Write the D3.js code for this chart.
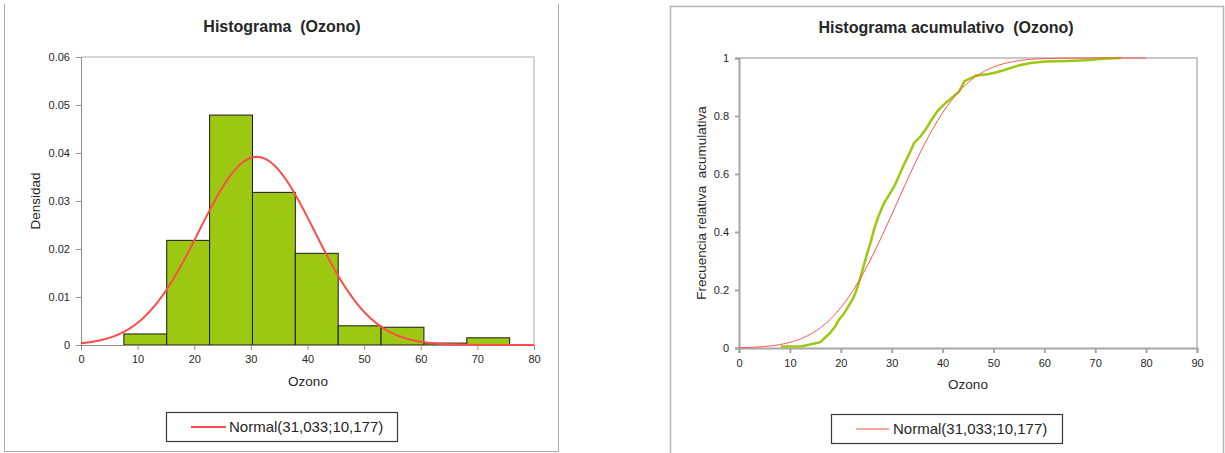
<!DOCTYPE html>
<html>
<head>
<meta charset="utf-8">
<script src="https://cdn.jsdelivr.net/npm/d3@7"></script>
<style>
  body { margin: 0; background: #fff; }
  svg text { font-family: "Liberation Sans", Arial, sans-serif; fill: #262626; white-space: pre; }
</style>
</head>
<body>
<svg id="chart" width="1225" height="453"></svg>
<script>
// Ozone sample: fitted normal parameters
const normalMean = 31.033;
const normalSd = 10.177;
const legendLabel = "Normal(31,033;10,177)";

// Histogram bins (edges) and densities
const binEdges = [0, 7.57, 15.14, 22.71, 30.28, 37.85, 45.42, 52.99, 60.56, 68.13, 75.7];
const binDensity = [0, 0.0023, 0.0218, 0.0479, 0.0318, 0.0191, 0.0040, 0.0037, 0.0004, 0.0015];

// Empirical cumulative relative frequency [ozone, F]
const ecdfOzone = [8.2, 12.4, 14.4, 16.0, 17.0, 18.0, 19.0, 19.6, 20.6, 21.6, 22.4, 23.2, 23.9, 24.6, 25.2, 25.9, 26.5, 27.5, 28.5, 29.5, 30.5, 31.4, 32.4, 33.4, 34.4, 35.7, 36.7, 37.7, 39.0, 40.3, 41.6, 43.2, 44.3, 46.5, 49.1, 50.7, 52.9, 55.1, 57.3, 60.2, 64.6, 69.0, 71.2, 75.0];
const ecdfFreq  = [0.005, 0.006, 0.014, 0.02, 0.037, 0.054, 0.077, 0.097, 0.118, 0.147, 0.17, 0.205, 0.245, 0.29, 0.326, 0.366, 0.407, 0.459, 0.50, 0.528, 0.557, 0.592, 0.632, 0.667, 0.707, 0.73, 0.754, 0.783, 0.817, 0.84, 0.86, 0.883, 0.92, 0.939, 0.945, 0.951, 0.963, 0.975, 0.983, 0.988, 0.99, 0.993, 0.997, 1.0];

// Axis ticks
const histXTicks = [0, 10, 20, 30, 40, 50, 60, 70, 80];
const histYTicks = [0, 0.01, 0.02, 0.03, 0.04, 0.05, 0.06];
const histYLabels = ["0", "0.01", "0.02", "0.03", "0.04", "0.05", "0.06"];
const cumXTicks = [0, 10, 20, 30, 40, 50, 60, 70, 80, 90];
const cumYTicks = [0, 0.2, 0.4, 0.6, 0.8, 1];
const cumYLabels = ["0", "0.2", "0.4", "0.6", "0.8", "1"];

const green = "#9dc811";
const red = "#ff4b4b";

const svg = d3.select("#chart");

// normal density / distribution from the fitted parameters
function normPdf(x) {
  const z = (x - normalMean) / normalSd;
  return Math.exp(-0.5 * z * z) / (normalSd * Math.sqrt(2 * Math.PI));
}
function erf(x) {
  const s = Math.sign(x); x = Math.abs(x);
  const t = 1 / (1 + 0.3275911 * x);
  const y = 1 - (((((1.061405429 * t - 1.453152027) * t) + 1.421413741) * t - 0.284496736) * t + 0.254829592) * t * Math.exp(-x * x);
  return s * y;
}
function normCdf(x) { return 0.5 * (1 + erf((x - normalMean) / (normalSd * Math.SQRT2))); }
const curveX = d3.range(0, 80.001, 0.25);

function styleAxis(g, color, width) {
  g.select(".domain").attr("stroke", color).attr("stroke-width", width);
  g.selectAll(".tick line").attr("stroke", color).attr("stroke-width", width);
  g.selectAll(".tick text").attr("fill", "#262626").style("font-size", "11px");
}

/* ---------------- Left: density histogram ---------------- */
{
  // panel border
  svg.append("path").attr("d", "M4.5,4V451.5H558.5V4")
    .attr("fill", "none").attr("stroke", "#a9a9a9").attr("stroke-width", 1);

  const x = d3.scaleLinear().domain([0, 80]).range([81, 534]);
  const y = d3.scaleLinear().domain([0, 0.06]).range([345, 57]);

  // plot frame (top / right)
  svg.append("path").attr("d", `M${x(0)},${y(0.06)}H${x(80)}V${y(0)}`)
    .attr("fill", "none").attr("stroke", "#c8c8c8").attr("stroke-width", 1.5);

  const bins = binDensity.map((d, i) => ({ x0: binEdges[i], x1: binEdges[i + 1], d }));
  svg.append("g").selectAll("rect").data(bins).join("rect")
    .attr("x", b => x(b.x0)).attr("width", b => x(b.x1) - x(b.x0))
    .attr("y", b => y(b.d)).attr("height", b => y(0) - y(b.d))
    .attr("fill", green).attr("stroke", "#1a1a1a").attr("stroke-width", 1);

  const gx = svg.append("g").attr("transform", `translate(0,${y(0)})`)
    .call(d3.axisBottom(x).tickValues(histXTicks).tickSize(5).tickPadding(5).tickFormat(d3.format("d")));
  styleAxis(gx, "#8f8f8f", 1);
  const gy = svg.append("g").attr("transform", `translate(${x(0)},0)`)
    .call(d3.axisLeft(y).tickValues(histYTicks).tickSize(5).tickPadding(6).tickFormat((d, i) => histYLabels[i]));
  styleAxis(gy, "#8f8f8f", 1);

  svg.append("path").datum(curveX)
    .attr("d", d3.line().x(v => x(v)).y(v => y(normPdf(v))))
    .attr("fill", "none").attr("stroke", red).attr("stroke-width", 2);

  svg.append("text").attr("x", 282).attr("y", 32).attr("text-anchor", "middle")
    .style("font-size", "16px").style("font-weight", "bold").text("Histograma  (Ozono)");
  svg.append("text").attr("x", 308).attr("y", 386).attr("text-anchor", "middle")
    .style("font-size", "13.5px").text("Ozono");
  svg.append("text").attr("transform", "translate(40,201) rotate(-90)").attr("text-anchor", "middle")
    .style("font-size", "13.5px").text("Densidad");

  // legend
  svg.append("rect").attr("x", 166.5).attr("y", 412.5).attr("width", 231).attr("height", 29)
    .attr("fill", "#fff").attr("stroke", "#3a3a3a").attr("stroke-width", 1.2);
  svg.append("line").attr("x1", 191).attr("x2", 226).attr("y1", 427).attr("y2", 427)
    .attr("stroke", red).attr("stroke-width", 2);
  svg.append("text").attr("x", 229).attr("y", 432).style("font-size", "15px").text(legendLabel);
}

/* ---------------- Right: cumulative histogram ---------------- */
{
  svg.append("path").attr("d", "M670.5,455V6.5H1223.5V455")
    .attr("fill", "none").attr("stroke", "#b4b4b4").attr("stroke-width", 1.5);

  const x = d3.scaleLinear().domain([0, 90]).range([739, 1197]);
  const y = d3.scaleLinear().domain([0, 1]).range([348, 58]);

  svg.append("path").attr("d", `M${x(0)},${y(1)}H${x(90)}V${y(0)}`)
    .attr("fill", "none").attr("stroke", "#c8c8c8").attr("stroke-width", 2);

  const gx = svg.append("g").attr("transform", `translate(0,${y(0)})`)
    .call(d3.axisBottom(x).tickValues(cumXTicks).tickSize(5).tickPadding(6).tickFormat(d3.format("d")));
  styleAxis(gx, "#a6a6a6", 2);
  const gy = svg.append("g").attr("transform", `translate(${x(0)},0)`)
    .call(d3.axisLeft(y).tickValues(cumYTicks).tickSize(4).tickPadding(6).tickFormat((d, i) => cumYLabels[i]));
  styleAxis(gy, "#a6a6a6", 2);

  const ecdf = ecdfOzone.map((v, i) => [v, ecdfFreq[i]]);
  svg.append("path").datum(ecdf)
    .attr("d", d3.line().x(d => x(d[0])).y(d => y(d[1])))
    .attr("fill", "none").attr("stroke", green).attr("stroke-width", 2.5);

  svg.append("path").datum(curveX)
    .attr("d", d3.line().x(v => x(v)).y(v => y(normCdf(v))))
    .attr("fill", "none").attr("stroke", red).attr("stroke-width", 1);

  svg.append("text").attr("x", 946).attr("y", 33).attr("text-anchor", "middle")
    .style("font-size", "16px").style("font-weight", "bold").text("Histograma acumulativo  (Ozono)");
  svg.append("text").attr("x", 968).attr("y", 389).attr("text-anchor", "middle")
    .style("font-size", "13.5px").text("Ozono");
  svg.append("text").attr("transform", "translate(706,203) rotate(-90)").attr("text-anchor", "middle")
    .style("font-size", "13.5px").text("Frecuencia relativa  acumulativa");

  svg.append("rect").attr("x", 831.5).attr("y", 414.5).attr("width", 231).attr("height", 29)
    .attr("fill", "#fff").attr("stroke", "#3a3a3a").attr("stroke-width", 1.2);
  svg.append("line").attr("x1", 856).attr("x2", 889).attr("y1", 429).attr("y2", 429)
    .attr("stroke", red).attr("stroke-width", 1);
  svg.append("text").attr("x", 893).attr("y", 434).style("font-size", "15px").text(legendLabel);
}
</script>
</body>
</html>
